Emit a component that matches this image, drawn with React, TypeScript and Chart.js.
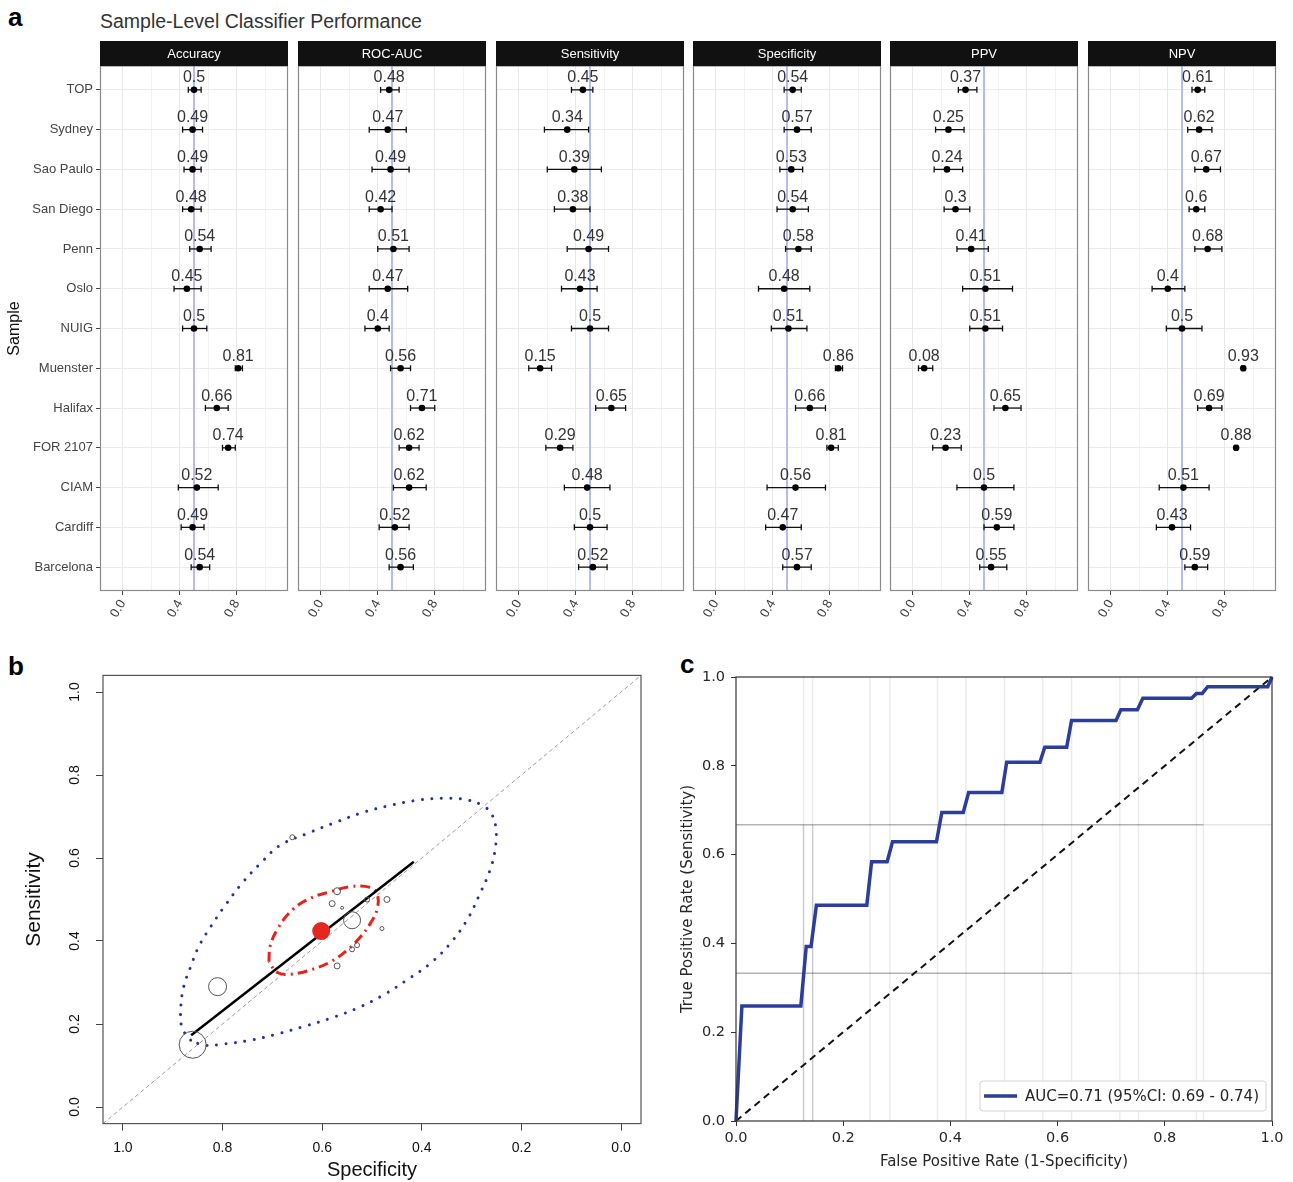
import React, { useEffect, useRef } from 'react';
import { Chart, registerables } from 'chart.js';

Chart.register(...registerables);

const SANS = "'Liberation Sans', Arial, Helvetica, sans-serif";
const DEJAVU = "'DejaVu Sans', sans-serif";

// ---------------- Panel a data ----------------
const samples = ['TOP', 'Sydney', 'Sao Paulo', 'San Diego', 'Penn', 'Oslo', 'NUIG', 'Muenster', 'Halifax', 'FOR 2107', 'CIAM', 'Cardiff', 'Barcelona'];
const metricNames = ['Accuracy', 'ROC-AUC', 'Sensitivity', 'Specificity', 'PPV', 'NPV'];

const accuracy = [0.5, 0.49, 0.49, 0.48, 0.54, 0.45, 0.5, 0.81, 0.66, 0.74, 0.52, 0.49, 0.54];
const accuracyLow = [0.46, 0.42, 0.43, 0.42, 0.47, 0.36, 0.42, 0.79, 0.58, 0.70, 0.39, 0.41, 0.48];
const accuracyHigh = [0.55, 0.56, 0.55, 0.55, 0.62, 0.55, 0.59, 0.84, 0.74, 0.79, 0.67, 0.57, 0.61];

const rocAuc = [0.48, 0.47, 0.49, 0.42, 0.51, 0.47, 0.4, 0.56, 0.71, 0.62, 0.62, 0.52, 0.56];
const rocAucLow = [0.42, 0.34, 0.36, 0.34, 0.40, 0.34, 0.31, 0.49, 0.63, 0.55, 0.51, 0.41, 0.48];
const rocAucHigh = [0.55, 0.60, 0.62, 0.50, 0.62, 0.61, 0.48, 0.63, 0.80, 0.69, 0.74, 0.62, 0.65];

const sensitivity = [0.45, 0.34, 0.39, 0.38, 0.49, 0.43, 0.5, 0.15, 0.65, 0.29, 0.48, 0.5, 0.52];
const sensitivityLow = [0.37, 0.18, 0.20, 0.25, 0.34, 0.30, 0.37, 0.07, 0.54, 0.19, 0.32, 0.39, 0.42];
const sensitivityHigh = [0.52, 0.49, 0.58, 0.50, 0.63, 0.55, 0.63, 0.23, 0.75, 0.38, 0.64, 0.62, 0.62];

const specificity = [0.54, 0.57, 0.53, 0.54, 0.58, 0.48, 0.51, 0.86, 0.66, 0.81, 0.56, 0.47, 0.57];
const specificityLow = [0.48, 0.48, 0.45, 0.43, 0.49, 0.30, 0.39, 0.84, 0.56, 0.78, 0.36, 0.35, 0.47];
const specificityHigh = [0.60, 0.67, 0.61, 0.65, 0.67, 0.66, 0.64, 0.89, 0.77, 0.86, 0.77, 0.60, 0.67];

const ppv = [0.37, 0.25, 0.24, 0.3, 0.41, 0.51, 0.51, 0.08, 0.65, 0.23, 0.5, 0.59, 0.55];
const ppvLow = [0.32, 0.16, 0.15, 0.22, 0.31, 0.35, 0.40, 0.04, 0.57, 0.14, 0.31, 0.50, 0.47];
const ppvHigh = [0.45, 0.36, 0.35, 0.40, 0.53, 0.70, 0.63, 0.14, 0.76, 0.34, 0.71, 0.71, 0.66];

const npv = [0.61, 0.62, 0.67, 0.6, 0.68, 0.4, 0.5, 0.93, 0.69, 0.88, 0.51, 0.43, 0.59];
const npvLow = [0.57, 0.54, 0.59, 0.55, 0.59, 0.29, 0.39, 0.92, 0.61, 0.87, 0.34, 0.32, 0.52];
const npvHigh = [0.66, 0.71, 0.77, 0.66, 0.78, 0.52, 0.64, 0.94, 0.78, 0.89, 0.69, 0.56, 0.68];

const metricValues = [accuracy, rocAuc, sensitivity, specificity, ppv, npv];
const metricLows = [accuracyLow, rocAucLow, sensitivityLow, specificityLow, ppvLow, npvLow];
const metricHighs = [accuracyHigh, rocAucHigh, sensitivityHigh, specificityHigh, ppvHigh, npvHigh];

const referenceValue = 0.5;
const facetXTickValues = [0, 0.2, 0.4, 0.6, 0.8, 1.0];
const facetXTickLabels = ['0.0', '', '0.4', '', '0.8', ''];
const facetXMin = -0.16;
const facetXMax = 1.16;

// ---------------- Panel b data ----------------
const studyRadius = [8.5, 3, 2.5, 2.5, 3, 2, 2.5, 13.5, 2.5, 9, 1.5, 3, 3.5];
const summarySpecificity = [0.602];
const summarySensitivity = [0.424];
const srocSpecificity = [0.863, 0.416];
const srocSensitivity = [0.173, 0.591];
const predictionSpec = [0.864, 0.881, 0.884, 0.878, 0.864, 0.848, 0.824, 0.794, 0.761, 0.724, 0.684, 0.630, 0.577, 0.523, 0.470, 0.416, 0.356, 0.309, 0.276, 0.259, 0.251, 0.253, 0.263, 0.283, 0.309, 0.343, 0.383, 0.430, 0.477, 0.530, 0.583, 0.637, 0.690, 0.744, 0.797, 0.837];
const predictionSens = [0.161, 0.190, 0.234, 0.290, 0.338, 0.386, 0.434, 0.487, 0.539, 0.587, 0.631, 0.659, 0.684, 0.708, 0.725, 0.738, 0.744, 0.740, 0.725, 0.704, 0.667, 0.619, 0.571, 0.515, 0.451, 0.394, 0.346, 0.306, 0.270, 0.238, 0.214, 0.194, 0.176, 0.161, 0.152, 0.149];
const confidenceSpec = [0.707, 0.704, 0.687, 0.660, 0.624, 0.583, 0.543, 0.503, 0.489, 0.490, 0.503, 0.523, 0.550, 0.583, 0.624, 0.664, 0.690];
const confidenceSens = [0.350, 0.390, 0.434, 0.475, 0.503, 0.519, 0.531, 0.529, 0.511, 0.475, 0.443, 0.410, 0.378, 0.350, 0.330, 0.320, 0.324];
const bTickValues = [0, 0.2, 0.4, 0.6, 0.8, 1.0];
const bTickLabels = ['0.0', '0.2', '0.4', '0.6', '0.8', '1.0'];
const bMin = -0.04;
const bMax = 1.04;

// ---------------- Panel c data ----------------
const rocFpr = [0, 0.011, 0.121, 0.131, 0.14, 0.15, 0.244, 0.253, 0.282, 0.292, 0.374, 0.384, 0.424, 0.434, 0.496, 0.505, 0.567, 0.576, 0.617, 0.626, 0.709, 0.718, 0.749, 0.759, 0.85, 0.859, 0.87, 0.88, 0.992, 1.0];
const rocTpr = [0, 0.259, 0.259, 0.393, 0.393, 0.486, 0.486, 0.584, 0.584, 0.629, 0.629, 0.695, 0.695, 0.74, 0.74, 0.808, 0.808, 0.842, 0.842, 0.902, 0.902, 0.926, 0.926, 0.952, 0.952, 0.963, 0.963, 0.978, 0.978, 1.0];
const siteStepFpr = [0.126, 0.143, 0.25, 0.287, 0.376, 0.429, 0.501, 0.572, 0.626, 0.716, 0.751, 0.859, 0.872];
const siteSharedFpr = [0.126, 0.143];
const siteHorizontalTpr = [0.333, 0.667];
const siteHorizontalEnd = [0.626, 0.872];
const cTickValues = [0, 0.2, 0.4, 0.6, 0.8, 1.0];
const cTickLabels = ['0.0', '0.2', '0.4', '0.6', '0.8', '1.0'];
const legendLabel = 'AUC=0.71 (95%CI: 0.69 - 0.74)';

// ---------------- layout ----------------
const facetLeft = [100, 298, 496, 693, 890, 1088];
const facetWidth = 188;

function line(ctx: CanvasRenderingContext2D, x0: number, y0: number, x1: number, y1: number) {
  ctx.beginPath();
  ctx.moveTo(x0, y0);
  ctx.lineTo(x1, y1);
  ctx.stroke();
}

function facetConfig(k: number): any {
  const first = k === 0;
  const vals = metricValues[k];
  const lows = metricLows[k];
  const highs = metricHighs[k];
  const deco = {
    id: 'facetDeco',
    beforeDatasetsDraw(chart: any) {
      const { ctx, chartArea: a, scales } = chart;
      const x = scales.x;
      const y = scales.y;
      ctx.save();
      ctx.beginPath();
      ctx.rect(a.left, a.top, a.right - a.left, a.bottom - a.top);
      ctx.clip();
      const xr = x.getPixelForValue(referenceValue);
      ctx.strokeStyle = '#b8bbee';
      ctx.lineWidth = 2;
      line(ctx, xr, a.top, xr, a.bottom);
      ctx.strokeStyle = '#111';
      ctx.lineWidth = 1.3;
      lows.forEach((lo, i) => {
        const yy = y.getPixelForValue(i);
        const x0 = x.getPixelForValue(lo);
        const x1 = x.getPixelForValue(highs[i]);
        line(ctx, x0, yy, x1, yy);
        line(ctx, x0, yy - 3, x0, yy + 3);
        line(ctx, x1, yy - 3, x1, yy + 3);
      });
      ctx.restore();
    },
    afterDatasetsDraw(chart: any) {
      const { ctx, scales } = chart;
      ctx.save();
      ctx.font = `16px ${SANS}`;
      ctx.fillStyle = '#333';
      ctx.textAlign = 'center';
      ctx.textBaseline = 'alphabetic';
      vals.forEach((v, i) => {
        const px = scales.x.getPixelForValue(v);
        const py = scales.y.getPixelForValue(i);
        ctx.fillText(String(v), px, py - 7.5);
      });
      ctx.restore();
    },
    afterDraw(chart: any) {
      const { ctx, chartArea: a } = chart;
      ctx.save();
      ctx.strokeStyle = '#8a8a8a';
      ctx.lineWidth = 1.2;
      ctx.strokeRect(a.left + 0.5, a.top, a.right - a.left - 1, a.bottom - a.top - 0.5);
      ctx.fillStyle = '#111';
      ctx.fillRect(a.left, a.top - 25, a.right - a.left, 25);
      ctx.fillStyle = '#fff';
      ctx.font = `13px ${SANS}`;
      ctx.textAlign = 'center';
      ctx.textBaseline = 'middle';
      ctx.fillText(metricNames[k], (a.left + a.right) / 2, a.top - 12);
      ctx.restore();
    },
  };
  return {
    type: 'scatter',
    data: {
      datasets: [
        {
          data: vals.map((v, i) => ({ x: v, y: i })),
          pointRadius: 3.3,
          pointHoverRadius: 3.3,
          backgroundColor: '#000',
          borderColor: '#000',
          borderWidth: 0,
        },
      ],
    },
    options: {
      responsive: false,
      animation: false,
      events: [],
      layout: { padding: { left: first ? 0 : 6, right: 6, top: 30, bottom: 0 } },
      scales: {
        x: {
          type: 'linear',
          min: facetXMin,
          max: facetXMax,
          afterBuildTicks: (s: any) => {
            s.ticks = facetXTickValues.map((v) => ({ value: v }));
          },
          afterFit: (s: any) => {
            s.height = 55;
            s.paddingLeft = 0;
            s.paddingRight = 0;
          },
          ticks: {
            autoSkip: false,
            minRotation: 60,
            maxRotation: 60,
            padding: 2,
            font: { size: 13, family: SANS },
            color: '#3a3a3a',
            callback: (_v: any, i: number) => facetXTickLabels[i],
          },
          grid: {
            color: (c: any) => (facetXTickLabels[c.index] ? '#e8e8e8' : '#f2f2f2'),
            lineWidth: 1,
            tickLength: 4,
            tickColor: (c: any) => (facetXTickLabels[c.index] ? '#444' : 'rgba(0,0,0,0)'),
          },
          border: { display: false },
        },
        y: {
          type: 'linear',
          min: -0.6,
          max: samples.length - 0.4,
          reverse: true,
          afterBuildTicks: (s: any) => {
            s.ticks = samples.map((_n, i) => ({ value: i }));
          },
          afterFit: (s: any) => {
            s.width = first ? 100 : 0;
            s.paddingTop = 0;
            s.paddingBottom = 0;
          },
          ticks: {
            display: first,
            autoSkip: false,
            padding: 3,
            font: { size: 13, family: SANS },
            color: '#444',
            callback: (_v: any, i: number) => samples[i],
          },
          grid: { color: '#ebebeb', drawTicks: first, tickLength: 4, tickColor: '#444' },
          border: { display: false },
          title: {
            display: first,
            text: 'Sample',
            font: { size: 16, family: SANS },
            color: '#111',
            padding: { top: 5, bottom: 0 },
          },
        },
      },
      plugins: { legend: { display: false }, tooltip: { enabled: false } },
    },
    plugins: [deco],
  };
}

function panelBConfig(): any {
  const deco = {
    id: 'bDeco',
    afterDraw(chart: any) {
      const { ctx, chartArea: a, scales } = chart;
      ctx.save();
      ctx.strokeStyle = '#555';
      ctx.lineWidth = 1.2;
      ctx.strokeRect(a.left, a.top, a.right - a.left, a.bottom - a.top);
      ctx.fillStyle = '#111';
      ctx.font = `14px ${SANS}`;
      ctx.textAlign = 'center';
      ctx.textBaseline = 'middle';
      bTickValues.forEach((v, i) => {
        const py = scales.y.getPixelForValue(v);
        ctx.save();
        ctx.translate(a.left - 28, py);
        ctx.rotate(-Math.PI / 2);
        ctx.fillText(bTickLabels[i], 0, 0);
        ctx.restore();
      });
      ctx.restore();
    },
  };
  const closed = (xs: number[], ys: number[]) => [...xs, xs[0]].map((x, i) => ({ x, y: [...ys, ys[0]][i] }));
  return {
    type: 'scatter',
    data: {
      datasets: [
        {
          data: summarySpecificity.map((x, i) => ({ x, y: summarySensitivity[i] })),
          pointRadius: 9,
          backgroundColor: '#e2281f',
          borderColor: '#e2281f',
          borderWidth: 0,
        },
        {
          data: specificity.map((x, i) => ({ x, y: sensitivity[i] })),
          pointRadius: studyRadius,
          backgroundColor: 'rgba(0,0,0,0)',
          borderColor: '#555',
          borderWidth: 1,
        },
        {
          data: srocSpecificity.map((x, i) => ({ x, y: srocSensitivity[i] })),
          showLine: true,
          borderColor: '#000',
          borderWidth: 2.5,
          pointRadius: 0,
        },
        {
          data: closed(confidenceSpec, confidenceSens),
          showLine: true,
          borderColor: '#e2241c',
          borderWidth: 3,
          borderDash: [10, 5, 2, 5],
          tension: 0.4,
          pointRadius: 0,
        },
        {
          data: closed(predictionSpec, predictionSens),
          showLine: true,
          borderColor: '#26329a',
          borderWidth: 3,
          borderDash: [0.01, 9.5],
          borderCapStyle: 'round',
          tension: 0.4,
          pointRadius: 0,
        },
        {
          data: [
            { x: bMax, y: bMin },
            { x: bMin, y: bMax },
          ],
          showLine: true,
          borderColor: '#9a9a9a',
          borderWidth: 1,
          borderDash: [4, 3],
          pointRadius: 0,
        },
      ],
    },
    options: {
      responsive: false,
      animation: false,
      events: [],
      layout: { padding: { left: 0, right: 19, top: 35.4, bottom: 0 } },
      scales: {
        x: {
          type: 'linear',
          min: bMin,
          max: bMax,
          reverse: true,
          afterBuildTicks: (s: any) => {
            s.ticks = bTickValues.map((v) => ({ value: v }));
          },
          afterFit: (s: any) => {
            s.height = 58.4;
            s.paddingLeft = 0;
            s.paddingRight = 0;
          },
          ticks: {
            autoSkip: false,
            maxRotation: 0,
            padding: 9,
            font: { size: 14, family: SANS },
            color: '#111',
            callback: (_v: any, i: number) => bTickLabels[i],
          },
          grid: { display: true, drawOnChartArea: false, drawTicks: true, tickLength: 7, tickColor: '#444' },
          border: { display: false },
          title: {
            display: true,
            text: 'Specificity',
            font: { size: 20, family: SANS },
            color: '#111',
            padding: { top: 0, bottom: 0 },
          },
        },
        y: {
          type: 'linear',
          min: bMin,
          max: bMax,
          afterBuildTicks: (s: any) => {
            s.ticks = bTickValues.map((v) => ({ value: v }));
          },
          afterFit: (s: any) => {
            s.width = 103;
            s.paddingTop = 0;
            s.paddingBottom = 0;
          },
          ticks: { display: false },
          grid: { display: true, drawOnChartArea: false, drawTicks: true, tickLength: 7, tickColor: '#444' },
          border: { display: false },
          title: {
            display: true,
            text: 'Sensitivity',
            font: { size: 21, family: SANS },
            color: '#111',
            padding: { top: 22, bottom: 0 },
          },
        },
      },
      plugins: { legend: { display: false }, tooltip: { enabled: false } },
    },
    plugins: [deco],
  };
}

function panelCConfig(): any {
  const deco = {
    id: 'cDeco',
    afterDraw(chart: any) {
      const { ctx, chartArea: a } = chart;
      ctx.save();
      ctx.strokeStyle = '#333';
      ctx.lineWidth = 1.2;
      ctx.strokeRect(a.left, a.top, a.right - a.left, a.bottom - a.top);
      ctx.font = `15px ${DEJAVU}`;
      const tw = ctx.measureText(legendLabel).width;
      const w = tw + 52;
      const h = 30;
      const right = a.right - 6;
      const bottom = a.bottom - 10;
      const left = right - w;
      const top = bottom - h;
      ctx.beginPath();
      ctx.roundRect(left, top, w, h, 3);
      ctx.fillStyle = 'rgba(255,255,255,0.85)';
      ctx.fill();
      ctx.strokeStyle = '#d4d4d4';
      ctx.lineWidth = 1;
      ctx.stroke();
      ctx.strokeStyle = '#2d3d9a';
      ctx.lineWidth = 3.5;
      line(ctx, left + 4, top + h / 2, left + 37, top + h / 2);
      ctx.fillStyle = '#262626';
      ctx.textBaseline = 'middle';
      ctx.textAlign = 'left';
      ctx.fillText(legendLabel, left + 45, top + h / 2 + 1);
      ctx.restore();
    },
  };
  const faint = siteStepFpr.map((f) => ({
    data: [
      { x: f, y: 0 },
      { x: f, y: 1 },
    ],
    showLine: true,
    borderColor: 'rgba(0,0,0,0.08)',
    borderWidth: 1.5,
    pointRadius: 0,
  }));
  const shared = siteSharedFpr.map((f) => ({
    data: [
      { x: f, y: 0 },
      { x: f, y: siteHorizontalTpr[1] },
    ],
    showLine: true,
    borderColor: 'rgba(0,0,0,0.14)',
    borderWidth: 1.5,
    pointRadius: 0,
  }));
  const horiz = siteHorizontalTpr.map((t) => ({
    data: [
      { x: 0, y: t },
      { x: 1, y: t },
    ],
    showLine: true,
    borderColor: 'rgba(0,0,0,0.1)',
    borderWidth: 1.5,
    pointRadius: 0,
  }));
  const horizDark = siteHorizontalTpr.map((t, i) => ({
    data: [
      { x: 0, y: t },
      { x: siteHorizontalEnd[i], y: t },
    ],
    showLine: true,
    borderColor: 'rgba(0,0,0,0.22)',
    borderWidth: 1.5,
    pointRadius: 0,
  }));
  return {
    type: 'scatter',
    data: {
      datasets: [
        {
          data: rocFpr.map((x, i) => ({ x, y: rocTpr[i] })),
          showLine: true,
          borderColor: '#2d3d9a',
          borderWidth: 3.5,
          pointRadius: 0,
          clip: false,
        },
        {
          data: [
            { x: cTickValues[0], y: cTickValues[0] },
            { x: cTickValues[cTickValues.length - 1], y: cTickValues[cTickValues.length - 1] },
          ],
          showLine: true,
          borderColor: '#111',
          borderWidth: 2,
          borderDash: [7, 5],
          pointRadius: 0,
        },
        ...horizDark,
        ...horiz,
        ...shared,
        ...faint,
      ],
    },
    options: {
      responsive: false,
      animation: false,
      events: [],
      layout: { padding: { left: 16, right: 21, top: 37, bottom: 0 } },
      scales: {
        x: {
          type: 'linear',
          min: 0,
          max: 1,
          afterBuildTicks: (s: any) => {
            s.ticks = cTickValues.map((v) => ({ value: v }));
          },
          afterFit: (s: any) => {
            s.height = 61;
            s.paddingLeft = 0;
            s.paddingRight = 0;
          },
          ticks: {
            autoSkip: false,
            maxRotation: 0,
            padding: 4,
            font: { size: 14.5, family: DEJAVU },
            color: '#262626',
            callback: (_v: any, i: number) => cTickLabels[i],
          },
          grid: { display: true, drawOnChartArea: false, drawTicks: true, tickLength: 5, tickColor: '#333' },
          border: { display: false },
          title: {
            display: true,
            text: 'False Positive Rate (1-Specificity)',
            font: { size: 15, family: DEJAVU },
            color: '#262626',
            padding: { top: 0, bottom: 11 },
          },
        },
        y: {
          type: 'linear',
          min: 0,
          max: 1,
          afterBuildTicks: (s: any) => {
            s.ticks = cTickValues.map((v) => ({ value: v }));
          },
          afterFit: (s: any) => {
            s.width = 60;
            s.paddingTop = 0;
            s.paddingBottom = 0;
          },
          ticks: {
            autoSkip: false,
            padding: 6,
            font: { size: 14.5, family: DEJAVU },
            color: '#262626',
            callback: (_v: any, i: number) => cTickLabels[i],
          },
          grid: { display: true, drawOnChartArea: false, drawTicks: true, tickLength: 5, tickColor: '#333' },
          border: { display: false },
          title: {
            display: true,
            text: 'True Positive Rate (Sensitivity)',
            font: { size: 15, family: DEJAVU },
            color: '#262626',
            padding: { top: 3, bottom: 0 },
          },
        },
      },
      plugins: { legend: { display: false }, tooltip: { enabled: false } },
    },
    plugins: [deco],
  };
}

const panelLetter: React.CSSProperties = {
  position: 'absolute',
  fontFamily: SANS,
  fontWeight: 'bold',
  fontSize: 26,
  lineHeight: 1,
  color: '#000',
};

export default function App() {
  const facetRefs = useRef<(HTMLCanvasElement | null)[]>([]);
  const bRef = useRef<HTMLCanvasElement | null>(null);
  const cRef = useRef<HTMLCanvasElement | null>(null);

  useEffect(() => {
    const charts: Chart[] = [];
    metricNames.forEach((_m, k) => {
      const cv = facetRefs.current[k];
      if (cv) charts.push(new Chart(cv, facetConfig(k)));
    });
    if (bRef.current) charts.push(new Chart(bRef.current, panelBConfig()));
    if (cRef.current) charts.push(new Chart(cRef.current, panelCConfig()));
    return () => charts.forEach((c) => c.destroy());
  }, []);

  return (
    <div style={{ position: 'absolute', left: 0, top: 0, width: 1293, height: 1182, background: '#fff', overflow: 'hidden' }}>
      <div style={{ ...panelLetter, left: 8, top: 4 }}>a</div>
      <div style={{ ...panelLetter, left: 8, top: 653 }}>b</div>
      <div style={{ ...panelLetter, left: 680, top: 651 }}>c</div>
      <div
        style={{
          position: 'absolute',
          left: 100,
          top: 11.5,
          fontFamily: SANS,
          fontSize: 19.5,
          lineHeight: 1,
          color: '#333',
          whiteSpace: 'nowrap',
        }}
      >
        Sample-Level Classifier Performance
      </div>
      {metricNames.map((m, k) => {
        const left = k === 0 ? 0 : facetLeft[k] - 6;
        const width = k === 0 ? facetLeft[0] + facetWidth + 6 : facetWidth + 12;
        return (
          <canvas
            key={m}
            ref={(el) => {
              facetRefs.current[k] = el;
            }}
            width={width}
            height={610}
            style={{ position: 'absolute', left, top: 36 }}
          />
        );
      })}
      <canvas ref={bRef} width={660} height={542} style={{ position: 'absolute', left: 0, top: 640 }} />
      <canvas ref={cRef} width={633} height={542} style={{ position: 'absolute', left: 660, top: 640 }} />
    </div>
  );
}
